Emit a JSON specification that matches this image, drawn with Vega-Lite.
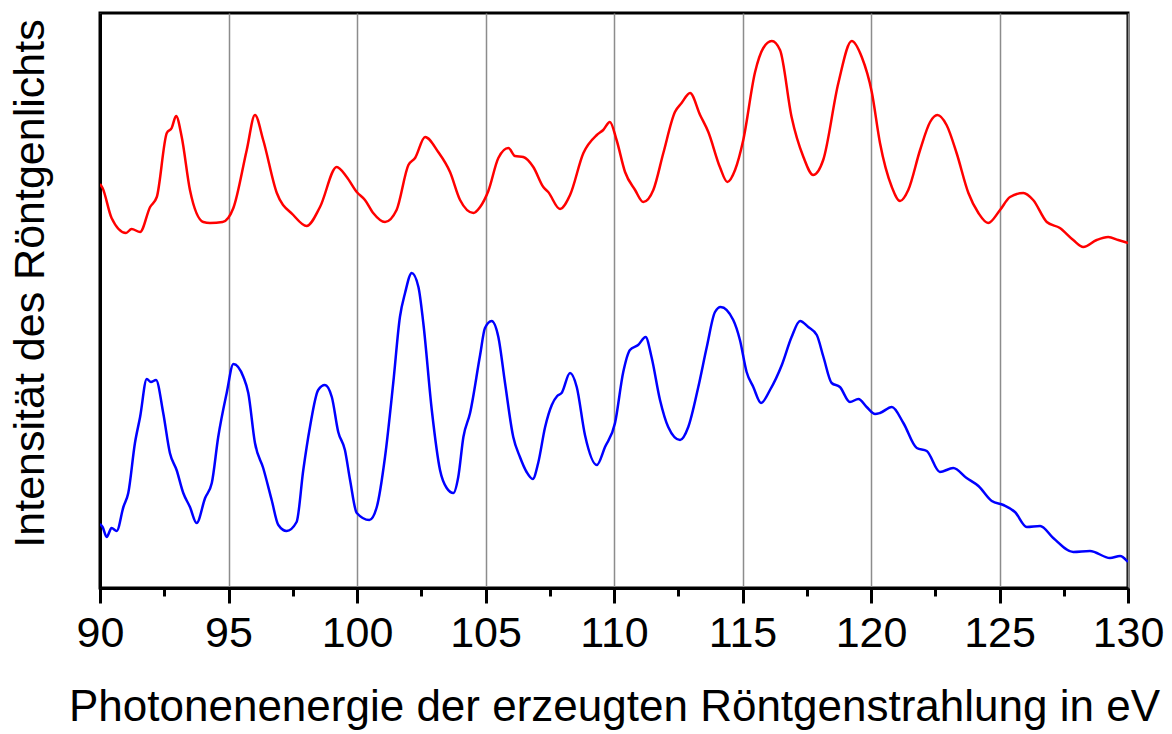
{
  "$schema": "https://vega.github.io/schema/vega-lite/v6.json",
  "autosize": "none",
  "width": 1028,
  "height": 575,
  "padding": {"left": 100, "top": 13, "right": 44, "bottom": 146},
  "background": "white",
  "config": {
    "view": {"stroke": "black", "strokeWidth": 3},
    "font": "Liberation Sans"
  },
  "data": {
    "values": [
      {"serie":"rot","energie":90.0,"intensitaet":404},
      {"serie":"rot","energie":90.1,"intensitaet":400},
      {"serie":"rot","energie":90.45,"intensitaet":370},
      {"serie":"rot","energie":91.01,"intensitaet":355},
      {"serie":"rot","energie":91.23,"intensitaet":359},
      {"serie":"rot","energie":91.56,"intensitaet":356},
      {"serie":"rot","energie":91.95,"intensitaet":381},
      {"serie":"rot","energie":92.21,"intensitaet":391},
      {"serie":"rot","energie":92.6,"intensitaet":455},
      {"serie":"rot","energie":92.79,"intensitaet":460},
      {"serie":"rot","energie":92.96,"intensitaet":472},
      {"serie":"rot","energie":93.18,"intensitaet":451},
      {"serie":"rot","energie":93.5,"intensitaet":398},
      {"serie":"rot","energie":94.02,"intensitaet":366},
      {"serie":"rot","energie":94.28,"intensitaet":365},
      {"serie":"rot","energie":94.77,"intensitaet":366},
      {"serie":"rot","energie":95.19,"intensitaet":380},
      {"serie":"rot","energie":95.71,"intensitaet":438},
      {"serie":"rot","energie":96.03,"intensitaet":473},
      {"serie":"rot","energie":96.35,"intensitaet":448},
      {"serie":"rot","energie":96.88,"intensitaet":395},
      {"serie":"rot","energie":97.52,"intensitaet":373},
      {"serie":"rot","energie":98.04,"intensitaet":362},
      {"serie":"rot","energie":98.56,"intensitaet":381},
      {"serie":"rot","energie":99.21,"intensitaet":421},
      {"serie":"rot","energie":99.6,"intensitaet":411},
      {"serie":"rot","energie":99.99,"intensitaet":396},
      {"serie":"rot","energie":100.31,"intensitaet":388},
      {"serie":"rot","energie":100.63,"intensitaet":375},
      {"serie":"rot","energie":101.09,"intensitaet":366},
      {"serie":"rot","energie":101.54,"intensitaet":378},
      {"serie":"rot","energie":102.0,"intensitaet":423},
      {"serie":"rot","energie":102.26,"intensitaet":430},
      {"serie":"rot","energie":102.65,"intensitaet":451},
      {"serie":"rot","energie":103.16,"intensitaet":436},
      {"serie":"rot","energie":103.62,"intensitaet":416},
      {"serie":"rot","energie":104.01,"intensitaet":388},
      {"serie":"rot","energie":104.53,"intensitaet":375},
      {"serie":"rot","energie":104.79,"intensitaet":381},
      {"serie":"rot","energie":105.11,"intensitaet":397},
      {"serie":"rot","energie":105.5,"intensitaet":430},
      {"serie":"rot","energie":105.89,"intensitaet":440},
      {"serie":"rot","energie":106.15,"intensitaet":432},
      {"serie":"rot","energie":106.47,"intensitaet":431},
      {"serie":"rot","energie":106.86,"intensitaet":421},
      {"serie":"rot","energie":107.25,"intensitaet":401},
      {"serie":"rot","energie":107.44,"intensitaet":396},
      {"serie":"rot","energie":107.9,"intensitaet":379},
      {"serie":"rot","energie":108.29,"intensitaet":393},
      {"serie":"rot","energie":108.81,"intensitaet":435},
      {"serie":"rot","energie":109.33,"intensitaet":453},
      {"serie":"rot","energie":109.58,"intensitaet":458},
      {"serie":"rot","energie":109.84,"intensitaet":466},
      {"serie":"rot","energie":110.1,"intensitaet":448},
      {"serie":"rot","energie":110.43,"intensitaet":416},
      {"serie":"rot","energie":110.82,"intensitaet":398},
      {"serie":"rot","energie":111.14,"intensitaet":386},
      {"serie":"rot","energie":111.53,"intensitaet":398},
      {"serie":"rot","energie":111.92,"intensitaet":435},
      {"serie":"rot","energie":112.37,"intensitaet":476},
      {"serie":"rot","energie":112.63,"intensitaet":485},
      {"serie":"rot","energie":112.96,"intensitaet":495},
      {"serie":"rot","energie":113.35,"intensitaet":473},
      {"serie":"rot","energie":113.67,"intensitaet":456},
      {"serie":"rot","energie":114.12,"intensitaet":421},
      {"serie":"rot","energie":114.41,"intensitaet":406},
      {"serie":"rot","energie":114.71,"intensitaet":418},
      {"serie":"rot","energie":115.03,"intensitaet":448},
      {"serie":"rot","energie":115.49,"intensitaet":516},
      {"serie":"rot","energie":115.81,"intensitaet":540},
      {"serie":"rot","energie":116.14,"intensitaet":547},
      {"serie":"rot","energie":116.46,"intensitaet":538},
      {"serie":"rot","energie":116.91,"intensitaet":471},
      {"serie":"rot","energie":117.37,"intensitaet":431},
      {"serie":"rot","energie":117.75,"intensitaet":413},
      {"serie":"rot","energie":118.14,"intensitaet":428},
      {"serie":"rot","energie":118.73,"intensitaet":505},
      {"serie":"rot","energie":119.25,"intensitaet":547},
      {"serie":"rot","energie":119.64,"intensitaet":531},
      {"serie":"rot","energie":120.03,"intensitaet":496},
      {"serie":"rot","energie":120.35,"intensitaet":445},
      {"serie":"rot","energie":120.81,"intensitaet":401},
      {"serie":"rot","energie":121.13,"intensitaet":387},
      {"serie":"rot","energie":121.45,"intensitaet":398},
      {"serie":"rot","energie":121.91,"intensitaet":438},
      {"serie":"rot","energie":122.3,"intensitaet":466},
      {"serie":"rot","energie":122.58,"intensitaet":473},
      {"serie":"rot","energie":122.94,"intensitaet":463},
      {"serie":"rot","energie":123.33,"intensitaet":435},
      {"serie":"rot","energie":123.79,"intensitaet":395},
      {"serie":"rot","energie":124.18,"intensitaet":375},
      {"serie":"rot","energie":124.56,"intensitaet":365},
      {"serie":"rot","energie":125.02,"intensitaet":378},
      {"serie":"rot","energie":125.41,"intensitaet":391},
      {"serie":"rot","energie":125.93,"intensitaet":395},
      {"serie":"rot","energie":126.31,"intensitaet":388},
      {"serie":"rot","energie":126.84,"intensitaet":366},
      {"serie":"rot","energie":127.35,"intensitaet":360},
      {"serie":"rot","energie":127.87,"intensitaet":348},
      {"serie":"rot","energie":128.26,"intensitaet":341},
      {"serie":"rot","energie":128.78,"intensitaet":348},
      {"serie":"rot","energie":129.23,"intensitaet":351},
      {"serie":"rot","energie":129.62,"intensitaet":348},
      {"serie":"rot","energie":130.0,"intensitaet":345},
      {"serie":"blau","energie":90.0,"intensitaet":64},
      {"serie":"blau","energie":90.1,"intensitaet":61},
      {"serie":"blau","energie":90.26,"intensitaet":51},
      {"serie":"blau","energie":90.45,"intensitaet":60},
      {"serie":"blau","energie":90.65,"intensitaet":57},
      {"serie":"blau","energie":90.91,"intensitaet":81},
      {"serie":"blau","energie":91.1,"intensitaet":95},
      {"serie":"blau","energie":91.36,"intensitaet":145},
      {"serie":"blau","energie":91.56,"intensitaet":171},
      {"serie":"blau","energie":91.82,"intensitaet":209},
      {"serie":"blau","energie":91.98,"intensitaet":206},
      {"serie":"blau","energie":92.18,"intensitaet":208},
      {"serie":"blau","energie":92.46,"intensitaet":175},
      {"serie":"blau","energie":92.72,"intensitaet":135},
      {"serie":"blau","energie":92.98,"intensitaet":118},
      {"serie":"blau","energie":93.24,"intensitaet":95},
      {"serie":"blau","energie":93.5,"intensitaet":81},
      {"serie":"blau","energie":93.76,"intensitaet":65},
      {"serie":"blau","energie":94.09,"intensitaet":90},
      {"serie":"blau","energie":94.35,"intensitaet":105},
      {"serie":"blau","energie":94.6,"intensitaet":151},
      {"serie":"blau","energie":94.93,"intensitaet":195},
      {"serie":"blau","energie":95.19,"intensitaet":224},
      {"serie":"blau","energie":95.58,"intensitaet":211},
      {"serie":"blau","energie":95.77,"intensitaet":195},
      {"serie":"blau","energie":96.03,"intensitaet":145},
      {"serie":"blau","energie":96.35,"intensitaet":120},
      {"serie":"blau","energie":96.68,"intensitaet":88},
      {"serie":"blau","energie":96.94,"intensitaet":63},
      {"serie":"blau","energie":97.26,"intensitaet":57},
      {"serie":"blau","energie":97.65,"intensitaet":66},
      {"serie":"blau","energie":97.91,"intensitaet":118},
      {"serie":"blau","energie":98.17,"intensitaet":161},
      {"serie":"blau","energie":98.49,"intensitaet":198},
      {"serie":"blau","energie":98.75,"intensitaet":203},
      {"serie":"blau","energie":99.02,"intensitaet":191},
      {"serie":"blau","energie":99.27,"intensitaet":156},
      {"serie":"blau","energie":99.53,"intensitaet":138},
      {"serie":"blau","energie":99.73,"intensitaet":108},
      {"serie":"blau","energie":99.99,"intensitaet":75},
      {"serie":"blau","energie":100.48,"intensitaet":68},
      {"serie":"blau","energie":100.77,"intensitaet":81},
      {"serie":"blau","energie":101.09,"intensitaet":131},
      {"serie":"blau","energie":101.41,"intensitaet":205},
      {"serie":"blau","energie":101.67,"intensitaet":271},
      {"serie":"blau","energie":101.87,"intensitaet":295},
      {"serie":"blau","energie":102.13,"intensitaet":315},
      {"serie":"blau","energie":102.39,"intensitaet":301},
      {"serie":"blau","energie":102.58,"intensitaet":265},
      {"serie":"blau","energie":102.91,"intensitaet":178},
      {"serie":"blau","energie":103.23,"intensitaet":118},
      {"serie":"blau","energie":103.49,"intensitaet":100},
      {"serie":"blau","energie":103.75,"intensitaet":95},
      {"serie":"blau","energie":103.94,"intensitaet":111},
      {"serie":"blau","energie":104.14,"intensitaet":151},
      {"serie":"blau","energie":104.4,"intensitaet":175},
      {"serie":"blau","energie":104.79,"intensitaet":233},
      {"serie":"blau","energie":104.98,"intensitaet":260},
      {"serie":"blau","energie":105.24,"intensitaet":267},
      {"serie":"blau","energie":105.5,"intensitaet":251},
      {"serie":"blau","energie":105.76,"intensitaet":205},
      {"serie":"blau","energie":106.08,"intensitaet":151},
      {"serie":"blau","energie":106.34,"intensitaet":131},
      {"serie":"blau","energie":106.6,"intensitaet":116},
      {"serie":"blau","energie":106.84,"intensitaet":109},
      {"serie":"blau","energie":107.05,"intensitaet":125},
      {"serie":"blau","energie":107.32,"intensitaet":161},
      {"serie":"blau","energie":107.58,"intensitaet":183},
      {"serie":"blau","energie":107.79,"intensitaet":192},
      {"serie":"blau","energie":107.96,"intensitaet":195},
      {"serie":"blau","energie":108.29,"intensitaet":215},
      {"serie":"blau","energie":108.55,"intensitaet":201},
      {"serie":"blau","energie":108.87,"intensitaet":153},
      {"serie":"blau","energie":109.33,"intensitaet":123},
      {"serie":"blau","energie":109.65,"intensitaet":141},
      {"serie":"blau","energie":110.04,"intensitaet":165},
      {"serie":"blau","energie":110.36,"intensitaet":216},
      {"serie":"blau","energie":110.62,"intensitaet":238},
      {"serie":"blau","energie":110.94,"intensitaet":243},
      {"serie":"blau","energie":111.23,"intensitaet":251},
      {"serie":"blau","energie":111.46,"intensitaet":231},
      {"serie":"blau","energie":111.79,"intensitaet":188},
      {"serie":"blau","energie":112.11,"intensitaet":161},
      {"serie":"blau","energie":112.57,"intensitaet":148},
      {"serie":"blau","energie":112.89,"intensitaet":161},
      {"serie":"blau","energie":113.28,"intensitaet":201},
      {"serie":"blau","energie":113.61,"intensitaet":241},
      {"serie":"blau","energie":113.93,"intensitaet":276},
      {"serie":"blau","energie":114.15,"intensitaet":281},
      {"serie":"blau","energie":114.64,"intensitaet":268},
      {"serie":"blau","energie":114.9,"intensitaet":248},
      {"serie":"blau","energie":115.16,"intensitaet":216},
      {"serie":"blau","energie":115.42,"intensitaet":201},
      {"serie":"blau","energie":115.72,"intensitaet":185},
      {"serie":"blau","energie":116.07,"intensitaet":198},
      {"serie":"blau","energie":116.53,"intensitaet":223},
      {"serie":"blau","energie":116.91,"intensitaet":251},
      {"serie":"blau","energie":117.24,"intensitaet":267},
      {"serie":"blau","energie":117.56,"intensitaet":261},
      {"serie":"blau","energie":117.89,"intensitaet":253},
      {"serie":"blau","energie":118.15,"intensitaet":231},
      {"serie":"blau","energie":118.47,"intensitaet":205},
      {"serie":"blau","energie":118.79,"intensitaet":201},
      {"serie":"blau","energie":119.18,"intensitaet":186},
      {"serie":"blau","energie":119.51,"intensitaet":189},
      {"serie":"blau","energie":119.83,"intensitaet":181},
      {"serie":"blau","energie":120.16,"intensitaet":174},
      {"serie":"blau","energie":120.35,"intensitaet":175},
      {"serie":"blau","energie":120.81,"intensitaet":181},
      {"serie":"blau","energie":121.26,"intensitaet":165},
      {"serie":"blau","energie":121.78,"intensitaet":140},
      {"serie":"blau","energie":122.17,"intensitaet":137},
      {"serie":"blau","energie":122.68,"intensitaet":116},
      {"serie":"blau","energie":123.2,"intensitaet":120},
      {"serie":"blau","energie":123.72,"intensitaet":110},
      {"serie":"blau","energie":124.18,"intensitaet":102},
      {"serie":"blau","energie":124.7,"intensitaet":87},
      {"serie":"blau","energie":125.15,"intensitaet":83},
      {"serie":"blau","energie":125.6,"intensitaet":76},
      {"serie":"blau","energie":126.06,"intensitaet":61},
      {"serie":"blau","energie":126.58,"intensitaet":62},
      {"serie":"blau","energie":127.09,"intensitaet":50},
      {"serie":"blau","energie":127.87,"intensitaet":36},
      {"serie":"blau","energie":128.52,"intensitaet":37},
      {"serie":"blau","energie":129.3,"intensitaet":30},
      {"serie":"blau","energie":129.69,"intensitaet":32},
      {"serie":"blau","energie":130.0,"intensitaet":26}
    ]
  },
  "mark": {"type": "line", "interpolate": "monotone", "strokeWidth": 2.5, "clip": true},
  "encoding": {
    "x": {
      "field": "energie",
      "type": "quantitative",
      "scale": {"domain": [90, 130], "nice": false, "zero": false},
      "axis": {
        "title": "Photonenenergie der erzeugten Röntgenstrahlung in eV",
        "titleFontSize": 44,
        "titleFontWeight": "normal",
        "titleColor": "black",
        "titlePadding": 30,
        "values": [90, 92.5, 95, 97.5, 100, 102.5, 105, 107.5, 110, 112.5, 115, 117.5, 120, 122.5, 125, 127.5, 130],
        "labelExpr": "datum.value % 5 === 0 ? datum.label : ''",
        "labelFontSize": 43,
        "labelColor": "black",
        "labelPadding": 9,
        "labelFlush": false,
        "labelOverlap": false,
        "domainColor": "black",
        "domainWidth": 3,
        "tickColor": "black",
        "tickWidth": 3,
        "tickSize": {"condition": {"test": "datum.value % 5 === 0", "value": 15}, "value": 8},
        "grid": true,
        "gridColor": "#8c8c8c",
        "gridWidth": 1.5,
        "gridOpacity": {"condition": {"test": "datum.value % 5 === 0", "value": 1}, "value": 0}
      }
    },
    "y": {
      "field": "intensitaet",
      "type": "quantitative",
      "scale": {"domain": [0, 575], "nice": false},
      "axis": {
        "title": "Intensität des Röntgenlichts",
        "titleFontSize": 43,
        "titleFontWeight": "normal",
        "titleColor": "black",
        "titlePadding": 48,
        "titleY": 270,
        "labels": false,
        "ticks": false,
        "grid": false,
        "domainColor": "black",
        "domainWidth": 3
      }
    },
    "color": {
      "field": "serie",
      "type": "nominal",
      "scale": {"domain": ["rot", "blau"], "range": ["#ff0000", "#0000ff"]},
      "legend": null
    }
  }
}
